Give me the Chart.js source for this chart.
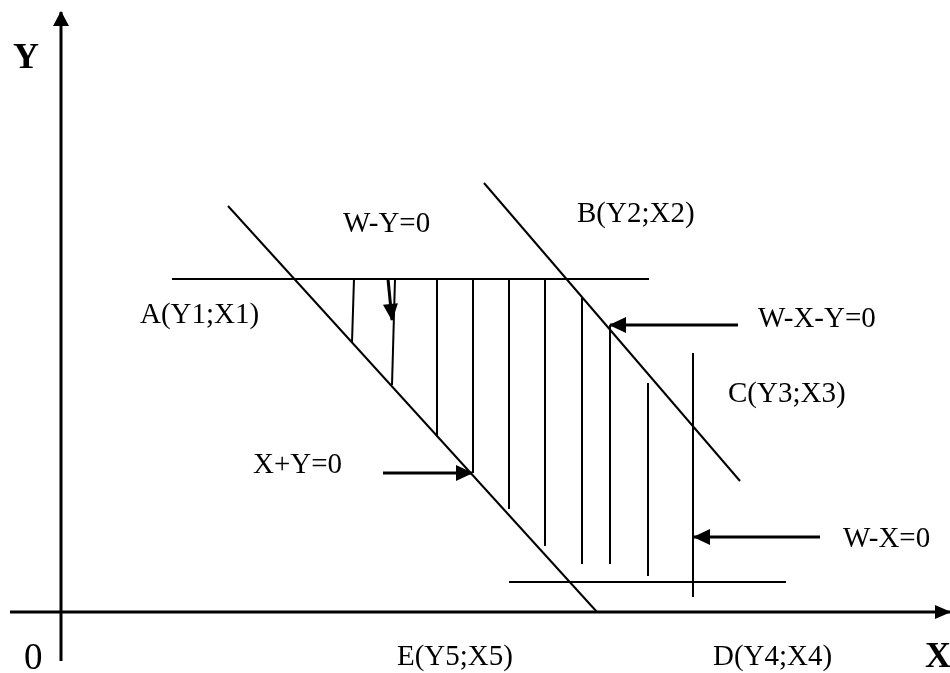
<!DOCTYPE html>
<html>
<head>
<meta charset="utf-8">
<script src="https://cdn.jsdelivr.net/npm/chart.js@4/dist/chart.umd.min.js"></script>
<style>
  html, body { margin: 0; padding: 0; background: #ffffff; }
  #wrap { width: 950px; height: 673px; }
</style>
</head>
<body>
<div id="wrap"><canvas id="c" width="950" height="673"></canvas></div>
<script>
// ---- Data (diagram coordinates; origin at the axes' intersection) ----
const axisX = [[-51, 0], [889, 0]];
const axisY = [[0, -49], [0, 600]];

const lineWY = [[111, 333], [588, 333]];        // W-Y=0 (upper horizontal)
const lineXY = [[167, 406], [536, 0]];          // X+Y=0
const lineWXY = [[423, 429], [679, 131]];       // W-X-Y=0
const lineBottom = [[448, 30], [725, 30]];      // lower horizontal

const hatchX = [293, 334, 376, 412, 448, 484, 521, 549, 587, 632];
const hatchXBottom = [291, 331, 376, 412, 448, 484, 521, 549, 587, 632];
const hatchTop = [333, 333, 333, 333, 333, 333, 314, 287, 229, 259];
const hatchBottom = [270, 227, 175, 139, 103, 66, 48, 48, 36, 15];

const arrowWY = [[327, 333], [331, 292]];
const arrowWXY = [[677, 287], [549, 287]];
const arrowXY = [[322, 139], [411, 139]];
const arrowWX = [[759, 75], [633, 75]];

const labelTexts = ["W-Y=0", "B(Y2;X2)", "A(Y1;X1)", "W-X-Y=0", "C(Y3;X3)", "X+Y=0", "W-X=0", "E(Y5;X5)", "D(Y4;X4)"];
const labelX = [282, 516, 79, 697, 667, 192, 782, 336, 652];
const labelY = [380, 390, 289, 285, 210, 139, 65, -53, -53];

const axisLabelTexts = ["Y", "X", "0"];
const axisLabelX = [-48, 864, -37];
const axisLabelY = [544, -55, -57];

// ---- Build datasets ----
const pts = arr => arr.map(p => ({ x: p[0], y: p[1] }));
const datasets = [];
function addLine(arr, width, arrow) {
  datasets.push({
    data: pts(arr), showLine: true, borderColor: '#000', backgroundColor: '#000',
    borderWidth: width, pointRadius: 0, pointHoverRadius: 0, fill: false, tension: 0,
    borderCapStyle: 'butt', clip: false, arrow: arrow || null
  });
}
addLine(axisX, 3, { len: 16, half: 7 });
addLine(axisY, 3, { len: 15, half: 8 });
addLine(lineWY, 2);
addLine(lineXY, 2);
addLine(lineWXY, 2);
addLine(lineBottom, 2);
hatchX.forEach((x, i) => addLine([[x, hatchTop[i]], [hatchXBottom[i], hatchBottom[i]]], 2));
addLine(arrowWY, 3, { len: 17, half: 7.5 });
addLine(arrowWXY, 3, { len: 17, half: 8 });
addLine(arrowXY, 3, { len: 17, half: 8 });
addLine(arrowWX, 3, { len: 17, half: 8 });

const decor = {
  id: 'decor',
  afterDatasetsDraw(chart) {
    const ctx = chart.ctx;
    const xs = chart.scales.x, ys = chart.scales.y;
    ctx.save();
    // arrowheads
    chart.data.datasets.forEach((ds, i) => {
      if (!ds.arrow) return;
      const meta = chart.getDatasetMeta(i);
      const n = meta.data.length;
      const a = meta.data[n - 2], b = meta.data[n - 1];
      const dx = b.x - a.x, dy = b.y - a.y;
      const L = Math.hypot(dx, dy);
      const ux = dx / L, uy = dy / L;
      const tipX = b.x + ux * 1, tipY = b.y + uy * 1;
      const bx = tipX - ux * ds.arrow.len, by = tipY - uy * ds.arrow.len;
      ctx.beginPath();
      ctx.moveTo(tipX, tipY);
      ctx.lineTo(bx - uy * ds.arrow.half, by + ux * ds.arrow.half);
      ctx.lineTo(bx + uy * ds.arrow.half, by - ux * ds.arrow.half);
      ctx.closePath();
      ctx.fillStyle = '#000';
      ctx.fill();
    });
    // labels
    ctx.fillStyle = '#000';
    ctx.textAlign = 'left';
    ctx.textBaseline = 'alphabetic';
    ctx.font = '29px "Liberation Serif", "Times New Roman", serif';
    labelTexts.forEach((t, i) => {
      ctx.fillText(t, xs.getPixelForValue(labelX[i]), ys.getPixelForValue(labelY[i]));
    });
    axisLabelTexts.forEach((t, i) => {
      ctx.font = (t === '0' ? '' : 'bold ') + (t === '0' ? '37px' : '36px') + ' "Liberation Serif", "Times New Roman", serif';
      ctx.fillText(t, xs.getPixelForValue(axisLabelX[i]), ys.getPixelForValue(axisLabelY[i]));
    });
    ctx.restore();
  }
};

new Chart(document.getElementById('c'), {
  type: 'scatter',
  data: { datasets },
  options: {
    responsive: false,
    devicePixelRatio: 1,
    animation: false,
    events: [],
    layout: { padding: 0 },
    plugins: { legend: { display: false }, tooltip: { enabled: false } },
    scales: {
      x: { type: 'linear', min: -61, max: 889, display: false },
      y: { type: 'linear', min: -61, max: 612, display: false }
    }
  },
  plugins: [decor]
});
</script>
</body>
</html>
